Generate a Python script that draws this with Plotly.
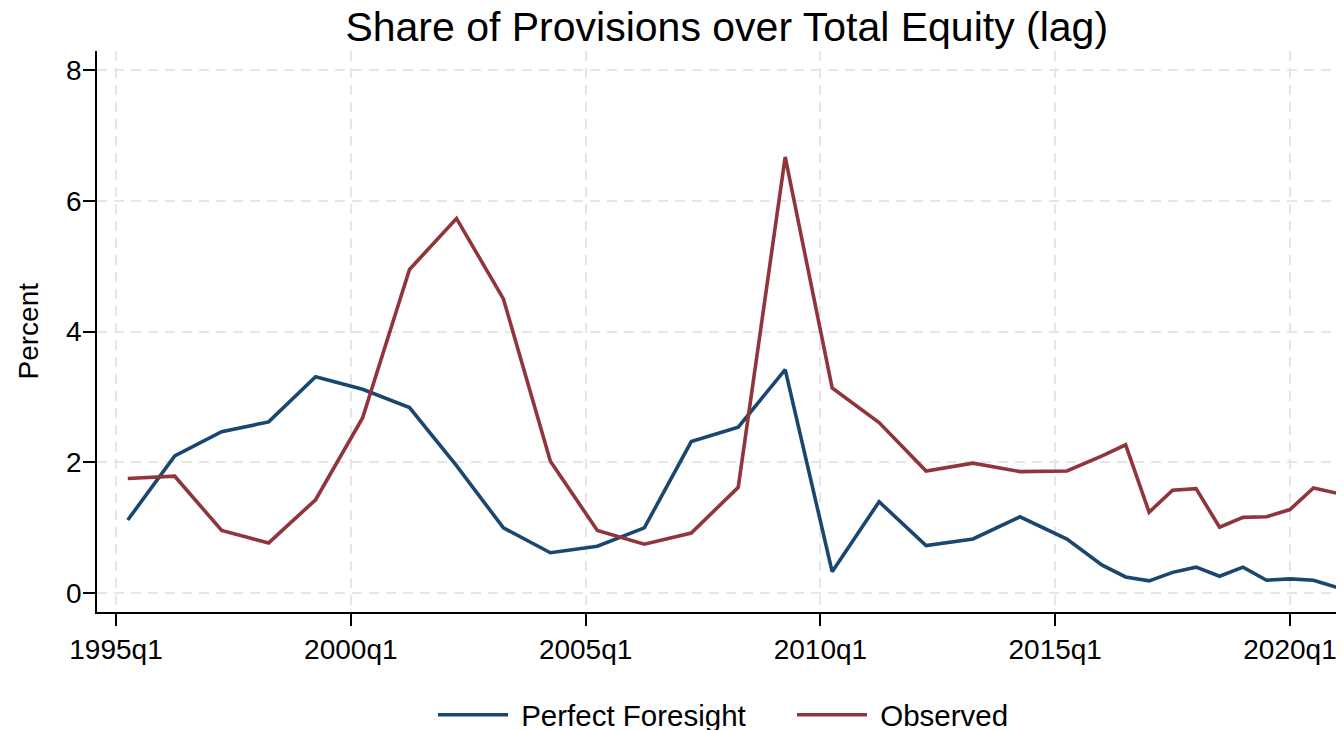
import plotly.graph_objects as go

# ---- data ----
quarters = ["1995q2", "1996q2", "1997q2", "1998q2", "1999q2", "2000q2", "2001q2",
            "2002q2", "2003q2", "2004q2", "2005q2", "2006q2", "2007q2", "2008q2",
            "2009q2", "2010q2", "2011q2", "2012q2", "2013q2", "2014q2", "2015q2",
            "2016q1", "2016q3", "2017q1", "2017q3", "2018q1", "2018q3", "2019q1",
            "2019q3", "2020q1", "2020q3", "2021q1"]

perfect_foresight = [1.12, 2.10, 2.47, 2.62, 3.31, 3.12, 2.84,
                     1.95, 1.00, 0.62, 0.72, 1.00, 2.32, 2.54,
                     3.42, 0.33, 1.40, 0.73, 0.83, 1.17, 0.83,
                     0.43, 0.25, 0.19, 0.32, 0.40, 0.26, 0.40,
                     0.20, 0.22, 0.20, 0.09]

observed = [1.755, 1.79, 0.96, 0.77, 1.43, 2.68, 4.95,
            5.73, 4.50, 2.02, 0.96, 0.75, 0.92, 1.62,
            6.67, 3.14, 2.61, 1.87, 1.99, 1.86, 1.87,
            2.10, 2.27, 1.24, 1.575, 1.60, 1.01, 1.16,
            1.17, 1.28, 1.61, 1.53]

x_tick_labels = ["1995q1", "2000q1", "2005q1", "2010q1", "2015q1", "2020q1"]
y_ticks = [0, 2, 4, 6, 8]


def q_to_num(q):
    y, qq = q.split("q")
    return int(y) + (int(qq) - 1) / 4.0


x = [q_to_num(q) for q in quarters]
x_tick_vals = [q_to_num(t) for t in x_tick_labels]

FONT = "Liberation Sans, Arial, sans-serif"
BLUE = "#1a476f"
RED = "#90353b"
GRID = "#e6e6e6"

# the page body has an 8px margin; figure coords = screen coords - 8
W, H = 1336, 760
ML, MT = 89, 43
PLOT_BOTTOM = 604
MB = H - PLOT_BOTTOM
PLOT_W = W - ML
PLOT_H = PLOT_BOTTOM - MT

fig = go.Figure()
fig.add_trace(go.Scatter(x=x, y=perfect_foresight, mode="lines", name=" Perfect Foresight",
                         line=dict(color=BLUE, width=3.6)))
fig.add_trace(go.Scatter(x=x, y=observed, mode="lines", name=" Observed",
                         line=dict(color=RED, width=3.6)))

axis_common = dict(
    showgrid=True, gridcolor=GRID, gridwidth=2, griddash="10px,7px",
    zeroline=False, showline=True, linecolor="black", linewidth=1.5,
    ticks="outside", ticklen=12, tickwidth=1.5, tickcolor="black",
)

fig.update_layout(
    width=W, height=H,
    margin=dict(l=ML, r=0, t=MT, b=MB, pad=0),
    paper_bgcolor="white", plot_bgcolor="white",
    font=dict(family=FONT, size=28, color="black"),
    title=dict(text="Share of Provisions over Total Equity (lag)",
               x=0.505, xref="paper", xanchor="center",
               y=1 - 19 / H, yref="container", yanchor="middle",
               font=dict(family=FONT, size=41, color="black")),
    showlegend=True,
    legend=dict(orientation="h", x=(425 - ML) / PLOT_W, xanchor="left", xref="paper",
                y=-(707 - PLOT_BOTTOM) / PLOT_H, yanchor="middle",
                font=dict(family=FONT, size=29.5),
                itemwidth=70, entrywidth=274, entrywidthmode="pixels",
                bgcolor="rgba(0,0,0,0)"),
    xaxis=dict(range=[1994.595, 2021.15], tickmode="array",
               tickvals=x_tick_vals, ticktext=x_tick_labels,
               tickfont=dict(family=FONT, size=28), ticklabelstandoff=0,
               **axis_common),
    yaxis=dict(range=[-0.286, 8.29], tickmode="array", tickvals=y_ticks,
               ticktext=[str(v) for v in y_ticks],
               tickfont=dict(family=FONT, size=28), ticklabelstandoff=-4,
               **axis_common),
)

fig.add_annotation(text="Percent", xref="paper", yref="paper",
                   x=(20 - ML) / PLOT_W, y=0.5, xanchor="center", yanchor="middle",
                   textangle=-90, showarrow=False,
                   font=dict(family=FONT, size=28, color="black"))

fig.write_html("out.html")
